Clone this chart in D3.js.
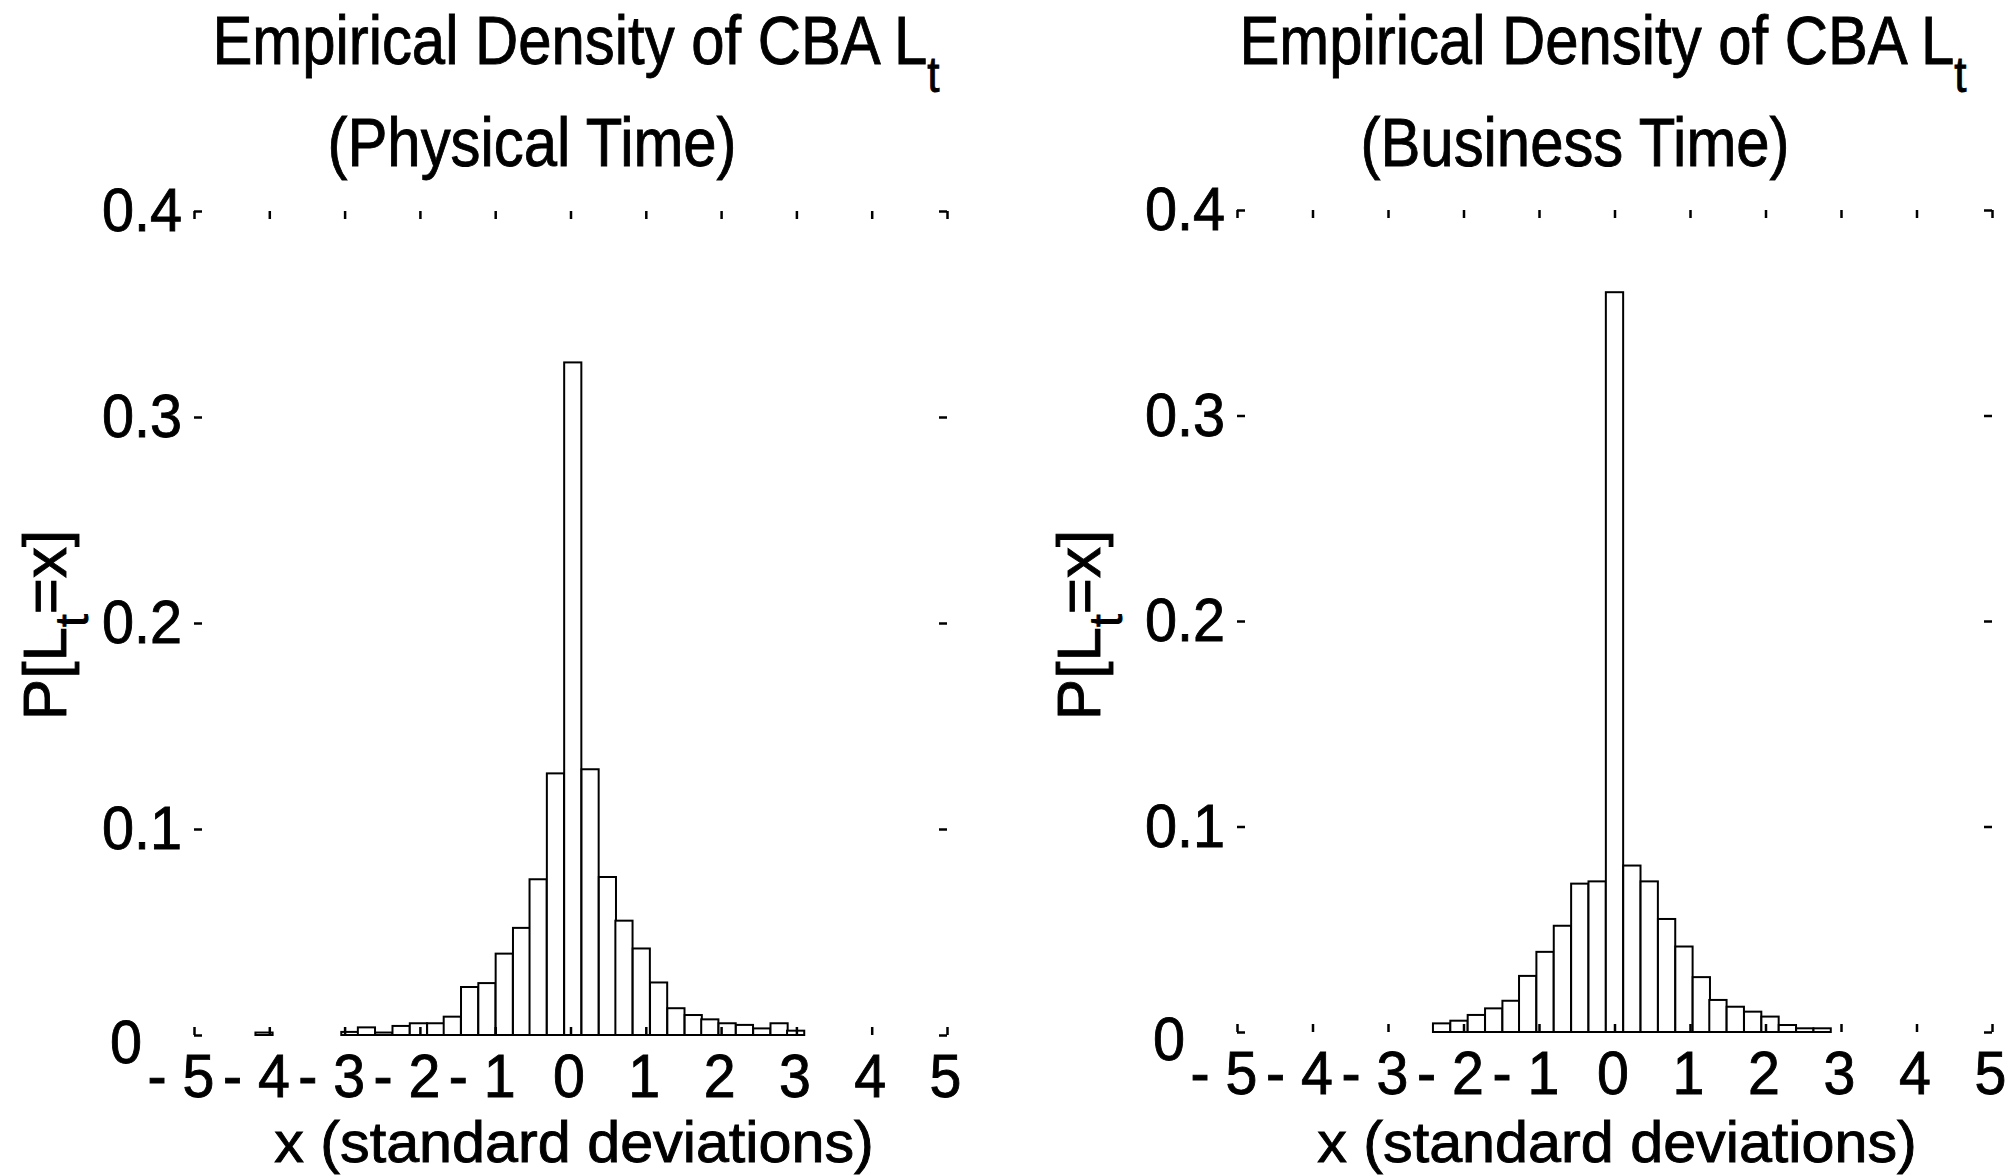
<!DOCTYPE html>
<html>
<head>
<meta charset="utf-8">
<script src="https://cdn.jsdelivr.net/npm/d3@7"></script>
<style>
  html, body { margin: 0; padding: 0; background: #fff; }
  svg { display: block; }
  text { font-family: "Liberation Sans", Arial, Helvetica, sans-serif; fill: #000; stroke: #000; stroke-width: 0.9px; }
</style>
</head>
<body>
<svg id="fig" width="2012" height="1176"></svg>
<script>
// Standardized lattice values x of CBA L_t and empirical probabilities P[L_t = x]
const physicalX = [-4.07, -2.93, -2.71, -2.48, -2.25, -2.02, -1.79, -1.57, -1.34, -1.11,
                   -0.88, -0.65, -0.43, -0.20, 0.03, 0.26, 0.49, 0.71, 0.94, 1.17,
                   1.40, 1.63, 1.85, 2.08, 2.31, 2.54, 2.77, 2.99];
const physicalP = [0.0012, 0.0015, 0.0037, 0.0012, 0.0044, 0.0057, 0.0057, 0.0089, 0.0233, 0.0252,
                   0.0395, 0.0520, 0.0756, 0.1270, 0.3265, 0.1290, 0.0767, 0.0555, 0.0420, 0.0255,
                   0.0130, 0.0097, 0.0076, 0.0057, 0.0049, 0.0032, 0.0057, 0.0021];

const businessX = [-2.29, -2.06, -1.83, -1.60, -1.37, -1.15, -0.92, -0.69, -0.46, -0.23,
                   0.00, 0.23, 0.46, 0.69, 0.92, 1.15, 1.37, 1.60, 1.83, 2.06,
                   2.29, 2.52, 2.75];
const businessP = [0.0042, 0.0055, 0.0083, 0.0115, 0.0152, 0.0273, 0.0390, 0.0517, 0.0722, 0.0733,
                   0.3600, 0.0810, 0.0733, 0.0550, 0.0416, 0.0267, 0.0156, 0.0123, 0.0099, 0.0075,
                   0.0034, 0.0018, 0.0018];

// Lattice spacing (in standard deviations) for each sampling scheme
const physicalStep = 0.228;
const businessStep = 0.229;

const xTicks = [-5, -4, -3, -2, -1, 0, 1, 2, 3, 4, 5];
const yTicks = [0, 0.1, 0.2, 0.3, 0.4];
const titleLine1 = "Empirical Density of CBA L";
const panelSubtitles = ["(Physical Time)", "(Business Time)"];
const xLabel = "x (standard deviations)";

const panels = [
  { sub: panelSubtitles[0], xs: physicalX, ps: physicalP, step: physicalStep,
    left: 194, right: 947, top: 211, bottom: 1035, titleDx: 382, ylabDx: -128 },
  { sub: panelSubtitles[1], xs: businessX, ps: businessP, step: businessStep,
    left: 1237, right: 1992, top: 210, bottom: 1032, titleDx: 366, ylabDx: -137 }
];

const svg = d3.select("#fig");
const TICK_FONT = 61, TICK_SX = 0.94;

panels.forEach(p => {
  const g = svg.append("g");
  const x = d3.scaleLinear().domain([-5, 5]).range([p.left, p.right]);
  const y = d3.scaleLinear().domain([0, 0.4]).range([p.bottom, p.top]);

  // histogram bars
  const bins = d3.zip(p.xs, p.ps).filter(d => d[1] > 0);
  g.append("g").selectAll("rect").data(bins).join("rect")
    .attr("x", d => x(d[0] - p.step / 2))
    .attr("width", d => x(d[0] + p.step / 2) - x(d[0] - p.step / 2))
    .attr("y", d => y(d[1]))
    .attr("height", d => y(0) - y(d[1]))
    .attr("fill", "#fff")
    .attr("stroke", "#000")
    .attr("stroke-width", 2);

  const styleAxis = sel => {
    sel.select(".domain").remove();
    sel.selectAll(".tick line").attr("stroke", "#000").attr("stroke-width", 2.5);
  };

  // inward ticks on all four sides
  const xb = g.append("g").attr("transform", `translate(0,${y(0)})`)
    .call(d3.axisBottom(x).tickValues(xTicks).tickSize(-8).tickPadding(19)
      .tickFormat(d => d < 0 ? "- " + Math.abs(d) : String(d)))
    .call(styleAxis);
  xb.selectAll(".tick text").each(function(d) {
    const t = d3.select(this);
    const neg = d < 0;
    t.attr("font-size", TICK_FONT)
      .attr("font-family", null)
      .attr("text-anchor", neg ? "end" : "middle")
      .attr("x", 0)
      .attr("transform", `translate(${neg ? 20 : -2},0) scale(${TICK_SX},1)`);
  });

  g.append("g").attr("transform", `translate(0,${y(0.4)})`)
    .call(d3.axisTop(x).tickValues(xTicks).tickSize(-8).tickFormat(() => ""))
    .call(styleAxis);

  const yl = g.append("g").attr("transform", `translate(${x(-5)},0)`)
    .call(d3.axisLeft(y).tickValues(yTicks).tickSize(-8)
      .tickFormat(d => d === 0 ? "0" : d3.format(".1f")(d)))
    .call(styleAxis);
  yl.selectAll(".tick text").each(function(d) {
    d3.select(this)
      .attr("font-size", 62)
      .attr("font-family", null)
      .attr("text-anchor", "start")
      .attr("x", 0)
      .attr("dy", d === 0 ? "0.45em" : "0.32em")
      .attr("transform", `translate(${d === 0 ? -84 : -92},0) scale(0.93,1)`);
  });

  g.append("g").attr("transform", `translate(${x(5)},0)`)
    .call(d3.axisRight(y).tickValues(yTicks).tickSize(-8).tickFormat(() => ""))
    .call(styleAxis);

  // two-line title
  const t1 = g.append("text")
    .attr("text-anchor", "middle")
    .attr("font-size", 68)
    .attr("transform", `translate(${p.left + p.titleDx},64) scale(0.88,1)`);
  t1.append("tspan").text(titleLine1);
  t1.append("tspan").attr("font-size", 50).attr("dy", 28).text("t");

  g.append("text")
    .attr("text-anchor", "middle")
    .attr("font-size", 68)
    .attr("transform", `translate(${p.left + 338},166) scale(0.88,1)`)
    .text(p.sub);

  // axis labels
  g.append("text")
    .attr("text-anchor", "middle")
    .attr("font-size", 57)
    .attr("transform", `translate(${p.left + 380},1162) scale(1.04,1)`)
    .text(xLabel);

  const yt = g.append("text")
    .attr("text-anchor", "middle")
    .attr("font-size", 62)
    .attr("transform", `translate(${p.left + p.ylabDx},625) rotate(-90)`);
  yt.append("tspan").text("P[L");
  yt.append("tspan").attr("font-size", 46).attr("dy", 22).text("t");
  yt.append("tspan").attr("dy", -22).text("=x]");
});
</script>
</body>
</html>
